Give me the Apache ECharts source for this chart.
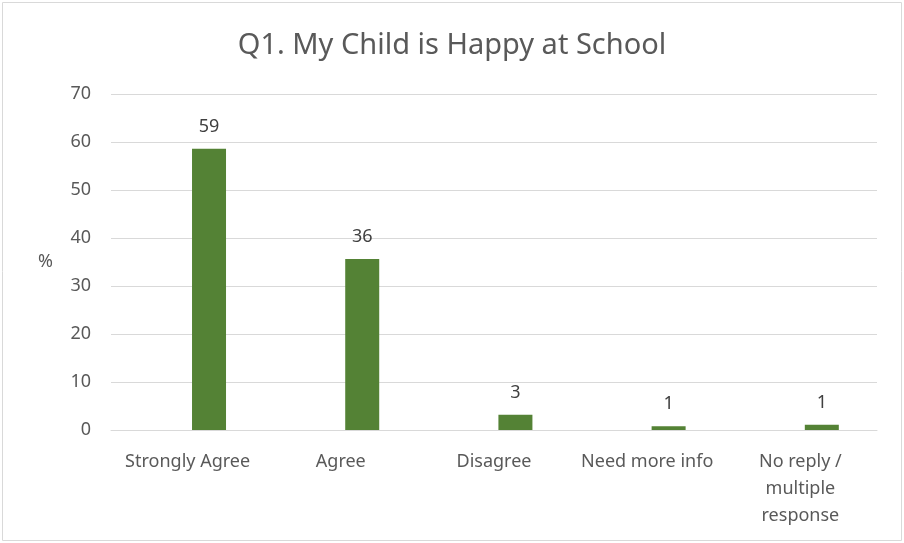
<!DOCTYPE html>
<html>
<head>
    <meta charset="utf-8">
    <title>Q1</title>
    <script src="https://cdn.jsdelivr.net/npm/echarts@6/dist/echarts.min.js"></script>
    <style>
        html, body { margin: 0; padding: 0; background: #fff; }
    </style>
</head>
<body>
    <div id="main" style="width: 904px;height:543px;"></div>
    <script type="text/javascript">

    var categories = ['Strongly Agree', 'Agree', 'Disagree', 'Need more info', 'No reply / multiple response'];
    var tickLabels = ['Strongly Agree', 'Agree', 'Disagree', 'Need more info', 'No reply /\nmultiple\nresponse'];
    var percents = [58.6, 35.6, 3.2, 0.8, 1.1];
    var shownLabels = ['59', '36', '3', '1', '1'];
    var emptySeries = [null, null, null, null, null];
    var yTicks = [0, 10, 20, 30, 40, 50, 60, 70];

    var font = 'Noto Sans';
    var myChart = echarts.init(document.getElementById('main'));

    option = {
        animation: false,
        graphic: [{
            type: 'rect',
            shape: { x: 2.5, y: 2.5, width: 899, height: 538 },
            style: { fill: 'none', stroke: '#d9d9d9', lineWidth: 1 }
        }],
        title: {
            text: 'Q1. My Child is Happy at School',
            left: 'center',
            top: 26,
            textStyle: { fontFamily: font, fontSize: 29, fontWeight: 'normal', color: '#595959' }
        },
        grid: {
            left: 111,
            right: 27,
            top: 94,
            bottom: 113,
            outerBoundsMode: 'none'
        },
        xAxis: {
            type: 'category',
            data: categories,
            axisLine: { lineStyle: { color: '#d9d9d9', width: 1 } },
            axisTick: { show: false },
            axisLabel: {
                interval: 0,
                margin: 18,
                lineHeight: 27,
                fontFamily: font,
                fontSize: 18,
                color: '#595959',
                formatter: function (v, i) { return tickLabels[i]; }
            }
        },
        yAxis: {
            type: 'value',
            min: yTicks[0],
            max: yTicks[yTicks.length - 1],
            interval: 10,
            name: '%',
            nameLocation: 'middle',
            nameRotate: 0,
            nameGap: 58,
            nameTextStyle: { fontFamily: font, fontSize: 18, color: '#595959' },
            axisLine: { show: false },
            axisTick: { show: false },
            axisLabel: { fontFamily: font, fontSize: 18, color: '#595959', margin: 20 },
            splitLine: { lineStyle: { color: '#d9d9d9', width: 1 } }
        },
        series: [
            {
                type: 'bar',
                data: emptySeries,
                barWidth: 34,
                barGap: '26%'
            },
            {
                type: 'bar',
                data: percents,
                barWidth: 34,
                itemStyle: { color: '#548235' },
                label: {
                    show: true,
                    position: 'top',
                    distance: 13,
                    fontFamily: font,
                    fontSize: 18,
                    color: '#404040',
                    formatter: function (p) { return shownLabels[p.dataIndex]; }
                }
            }
        ]
    };
    myChart.setOption(option);

    </script>
</body>
</html>
